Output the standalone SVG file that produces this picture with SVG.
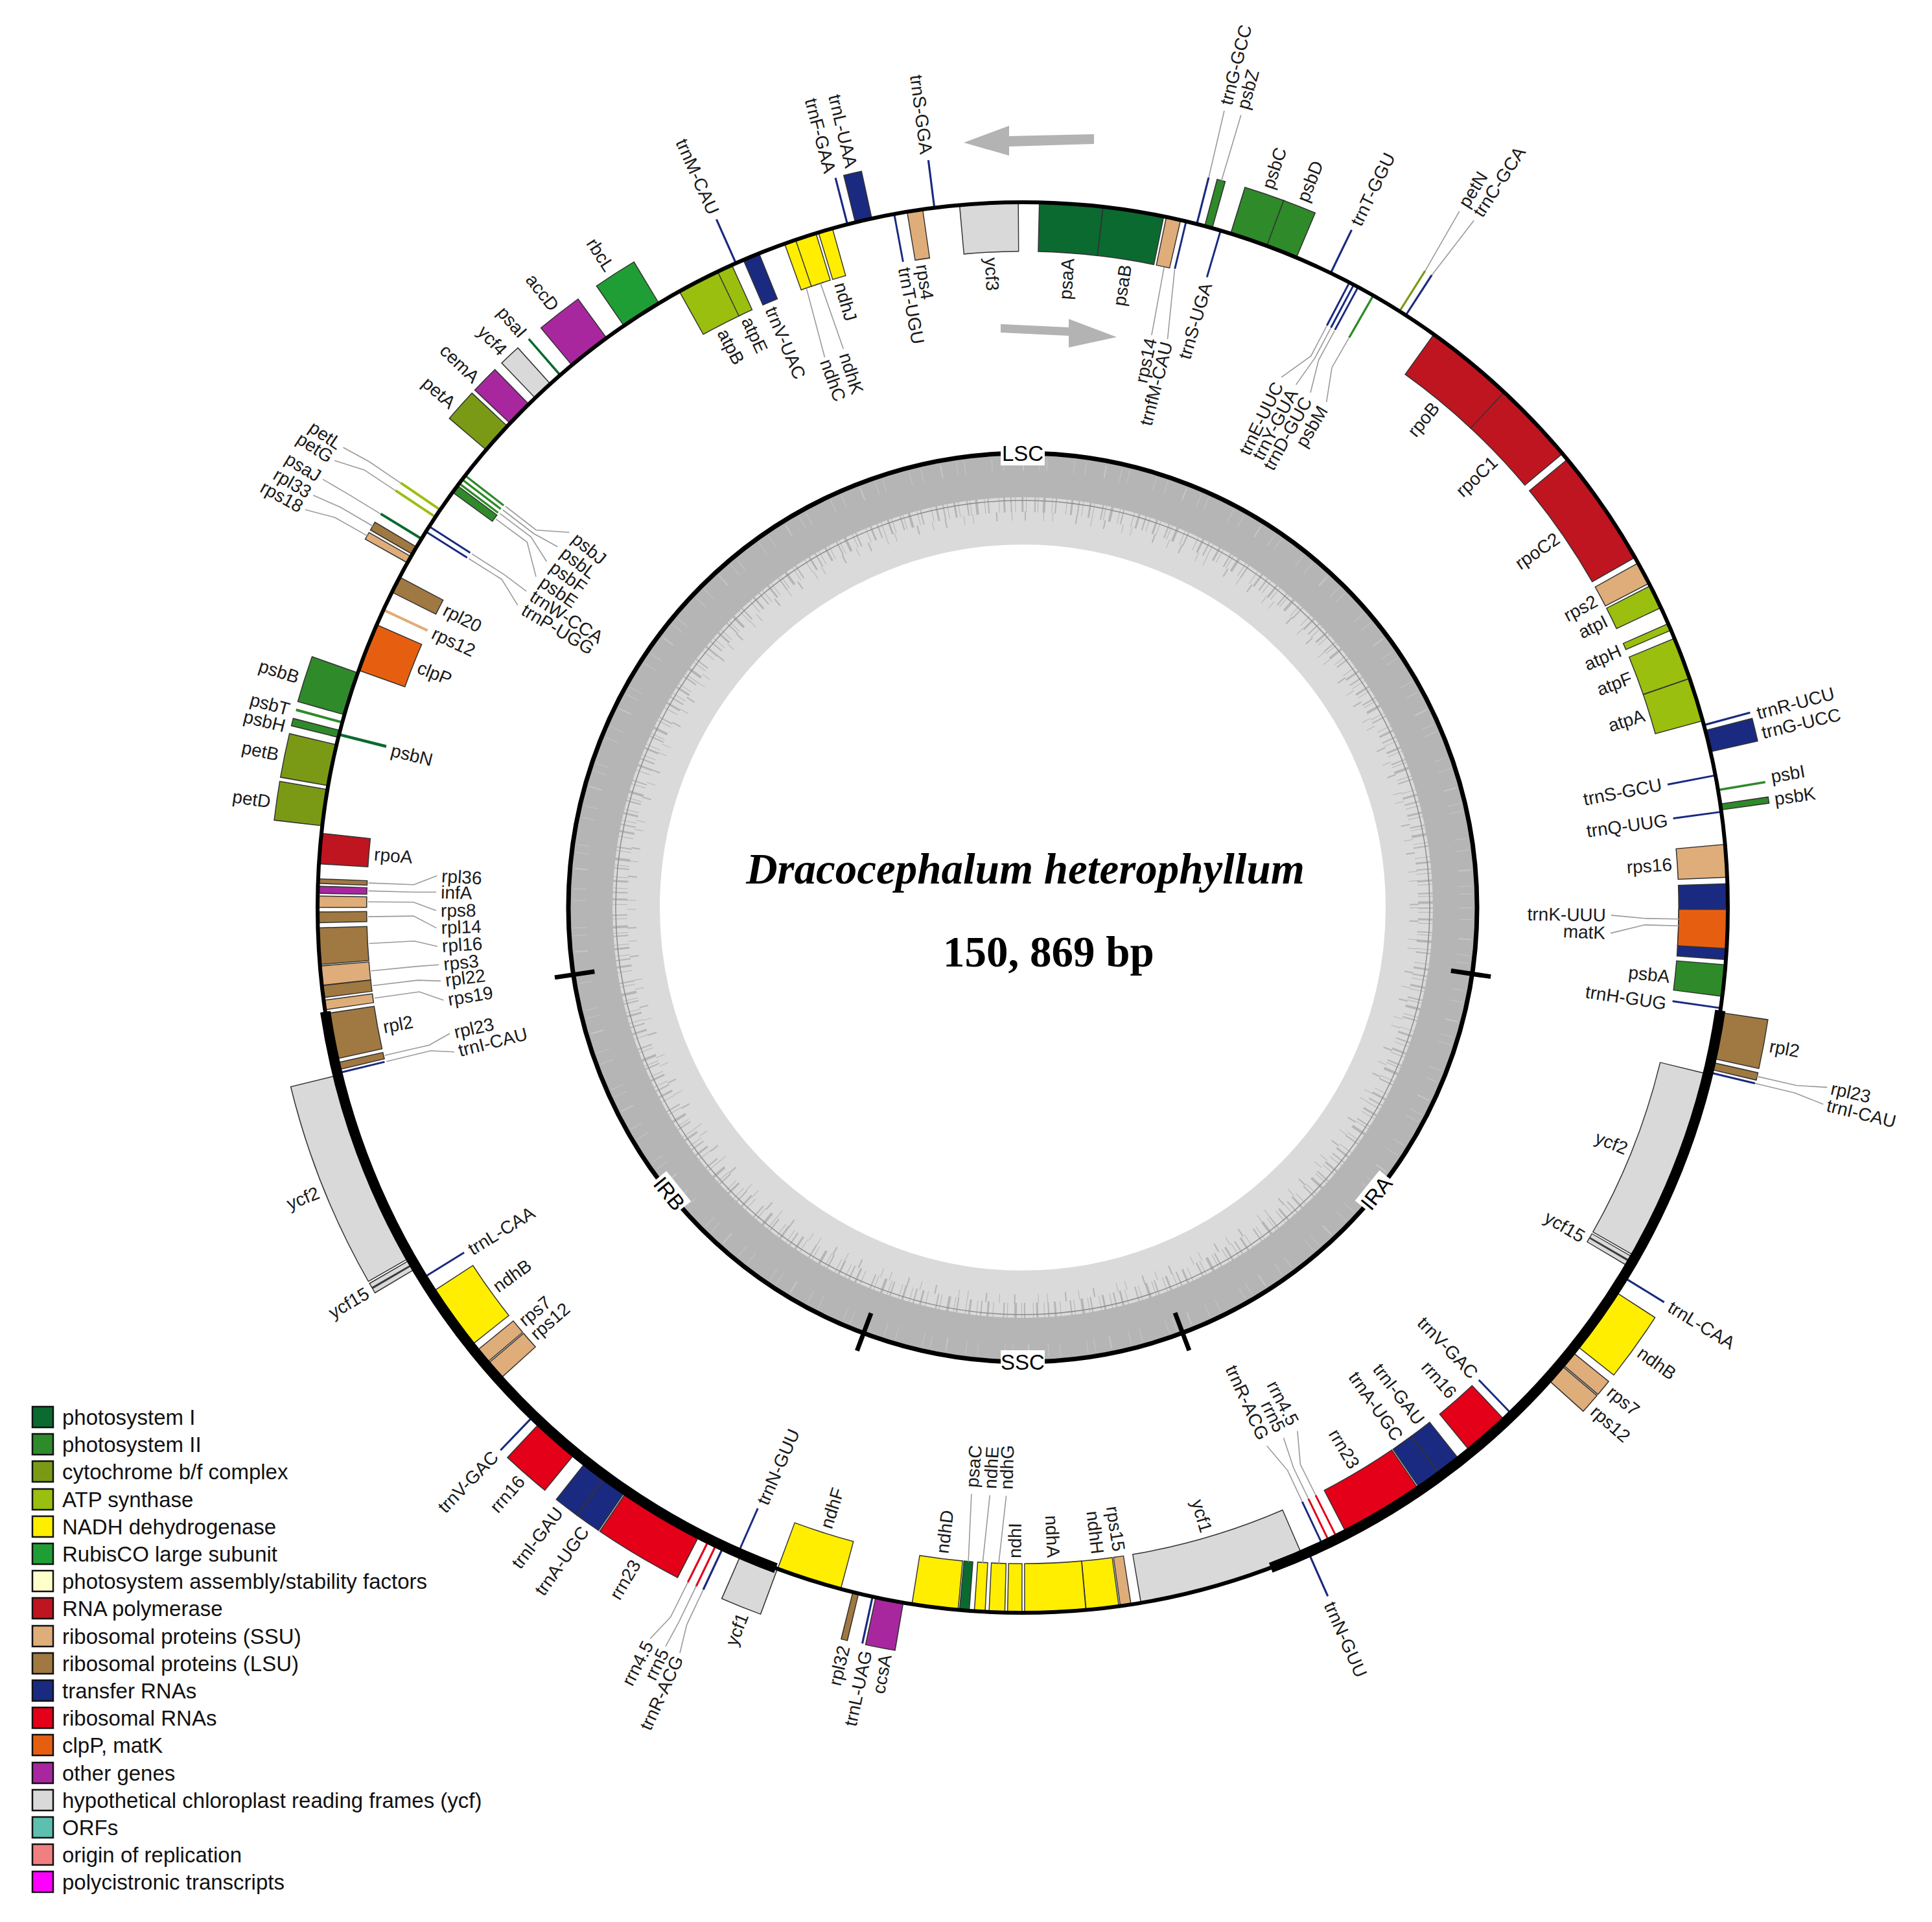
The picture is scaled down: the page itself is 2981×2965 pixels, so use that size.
<svg xmlns="http://www.w3.org/2000/svg" width="2981" height="2965" viewBox="0 0 2981 2965">
<style>
circle{fill:none}
.L{font-family:"Liberation Sans",Arial,sans-serif;font-size:28px;fill:#1a1a1a;dominant-baseline:central}
.e{text-anchor:end}.s{text-anchor:start}
.ld{fill:none;stroke:#9a9a9a;stroke-width:1.6}
.lg{font-family:"Liberation Sans",Arial,sans-serif;font-size:33px;fill:#111}
.lb{stroke:#111;stroke-width:2.5}
.rg{font-family:"Liberation Sans",Arial,sans-serif;font-size:33px;fill:#000;text-anchor:middle}
.ps1{stroke:#0b6a30;fill:#0b6a30}.ps2{stroke:#2f8a2a;fill:#2f8a2a}.cyt{stroke:#7a9a16;fill:#7a9a16}.atp{stroke:#9abf0f;fill:#9abf0f}
.ndh{stroke:#ffee00;fill:#ffee00}.rbc{stroke:#1f9e35;fill:#1f9e35}.psa{stroke:#ffffcc;fill:#ffffcc}.rpo{stroke:#bf1520;fill:#bf1520}
.rps{stroke:#dfad79;fill:#dfad79}.rpl{stroke:#a07841;fill:#a07841}.trn{stroke:#1a2a80;fill:#1a2a80}.rrn{stroke:#e30018;fill:#e30018}
.clp{stroke:#e65f10;fill:#e65f10}.oth{stroke:#a8279f;fill:#a8279f}.ycf{stroke:#d9d9d9;fill:#d9d9d9}.orf{stroke:#5cbfb0;fill:#5cbfb0}
.ori{stroke:#f08080;fill:#f08080}.pol{stroke:#ff00ff;fill:#ff00ff}
</style>
<defs>
<circle id="fi" cx="1578" cy="1400" r="1050.5" stroke-width="75" pathLength="360"/>
<circle id="oi" cx="1578" cy="1400" r="1050.5" stroke-width="78" stroke="#333" pathLength="360"/>
<circle id="fo" cx="1578" cy="1400" r="1125" stroke-width="74" pathLength="360"/>
<circle id="oo" cx="1578" cy="1400" r="1125" stroke-width="77" stroke="#333" pathLength="360"/>
</defs>
<rect width="2981" height="2965" fill="#fff"/>

<g id="gc-ring">
<circle cx="1578" cy="1400" r="630" stroke="#dadada" stroke-width="140"/>
<circle cx="1578" cy="1400" r="667" stroke="#b5b5b5" stroke-width="68"/>
<circle cx="1578" cy="1400" r="622" stroke="#b5b5b5" stroke-width="24" stroke-dasharray="2 5 1 9 3 4 1 12 2 3 1 7 4 10 1 4 2 15 1 6 3 8"/>
<circle cx="1578" cy="1400" r="604" stroke="#b5b5b5" stroke-width="14" stroke-dasharray="1 19 2 27 1 13 1 35 2 22"/>
<circle cx="1578" cy="1400" r="684" stroke="#cbcbcb" stroke-width="20" stroke-dasharray="1 17 1 29 2 23 1 11 1 41" opacity="0.8"/>
<circle cx="1578" cy="1400" r="628" stroke="#8c8c8c" stroke-width="1.5"/>
<circle cx="1578" cy="1400" r="701" stroke="#000" stroke-width="7"/>
<g stroke="#000" stroke-width="7">
<line x1="1578" y1="670" x2="1578" y2="732" transform="rotate(98.4 1578 1400)"/>
<line x1="1578" y1="670" x2="1578" y2="732" transform="rotate(159.4 1578 1400)"/>
<line x1="1578" y1="670" x2="1578" y2="732" transform="rotate(200.5 1578 1400)"/>
<line x1="1578" y1="670" x2="1578" y2="732" transform="rotate(261.5 1578 1400)"/>
</g>
<g id="region-labels">
<rect x="1544" y="682" width="68" height="36" fill="#fff"/><text class="rg" x="1578" y="711">LSC</text>
<rect x="1544" y="2083" width="68" height="36" fill="#fff"/><text class="rg" x="1578" y="2113">SSC</text>
<g transform="rotate(-51.1 1578 1400)"><rect x="1548" y="2083" width="60" height="36" fill="#fff"/><text class="rg" x="1578" y="2113">IRA</text></g>
<g transform="rotate(51 1578 1400)"><rect x="1548" y="2083" width="60" height="36" fill="#fff"/><text class="rg" x="1578" y="2113">IRB</text></g>
</g>
</g>

<g id="title">
<text x="1582" y="1363" font-family="Liberation Serif,'Times New Roman',serif" font-weight="bold" font-style="italic" font-size="67" text-anchor="middle">Dracocephalum heterophyllum</text>
<text x="1618" y="1491" font-family="Liberation Serif,'Times New Roman',serif" font-weight="bold" font-size="67" text-anchor="middle">150, 869 bp</text>
</g>

<g id="direction-arrows" fill="#b3b3b3">
<polygon points="1688,207 1557,210 1557,194 1487,220 1557,240 1557,226 1688,222"/>
<polygon points="1544,500 1649,505 1649,492 1723,520 1649,536 1649,518 1544,513"/>
</g>

<g id="genes" transform="rotate(-90 1578 1400)">
<g id="g-psaA" class="ps1"><use href="#oi" stroke-dasharray="0 1.32 5.26 360"/><use href="#fi" stroke-dasharray="0 1.4 5.1 360"/></g>
<g id="g-psaB" class="ps1"><use href="#oi" stroke-dasharray="0 6.52 5.06 360"/><use href="#fi" stroke-dasharray="0 6.6 4.9 360"/></g>
<g id="g-rps14" class="rps"><use href="#oi" stroke-dasharray="0 11.72 1.26 360"/><use href="#fi" stroke-dasharray="0 11.8 1.1 360"/></g>
<g id="g-trnfM-CAU" class="trn"><use href="#fi" stroke-dasharray="0 13.32 0.16 360"/></g>
<g id="g-trnG-GCC" class="trn"><use href="#fo" stroke-dasharray="0 14.22 0.16 360"/></g>
<g id="g-psbZ" class="ps2"><use href="#oo" stroke-dasharray="0 14.92 0.71 360"/><use href="#fo" stroke-dasharray="0 15 0.55 360"/></g>
<g id="g-trnS-UGA" class="trn"><use href="#fi" stroke-dasharray="0 16.22 0.16 360"/></g>
<g id="g-psbC" class="ps2"><use href="#oo" stroke-dasharray="0 17.12 3.26 360"/><use href="#fo" stroke-dasharray="0 17.2 3.1 360"/></g>
<g id="g-psbD" class="ps2"><use href="#oo" stroke-dasharray="0 20.22 2.66 360"/><use href="#fo" stroke-dasharray="0 20.3 2.5 360"/></g>
<g id="g-trnT-GGU" class="trn"><use href="#fo" stroke-dasharray="0 25.82 0.16 360"/></g>
<g id="g-trnE-UUC" class="trn"><use href="#fi" stroke-dasharray="0 27.52 0.16 360"/></g>
<g id="g-trnY-GUA" class="trn"><use href="#fi" stroke-dasharray="0 27.92 0.16 360"/></g>
<g id="g-trnD-GUC" class="trn"><use href="#fi" stroke-dasharray="0 28.32 0.16 360"/></g>
<g id="g-psbM" class="ps2"><use href="#fi" stroke-dasharray="0 29.72 0.18 360"/></g>
<g id="g-petN" class="cyt"><use href="#fo" stroke-dasharray="0 32.22 0.16 360"/></g>
<g id="g-trnC-GCA" class="trn"><use href="#fo" stroke-dasharray="0 32.82 0.16 360"/></g>
<g id="g-rpoB" class="rpo"><use href="#oi" stroke-dasharray="0 35.62 7.56 360"/><use href="#fi" stroke-dasharray="0 35.7 7.4 360"/></g>
<g id="g-rpoC1" class="rpo"><use href="#oi" stroke-dasharray="0 43.02 6.96 360"/><use href="#fi" stroke-dasharray="0 43.1 6.8 360"/></g>
<g id="g-rpoC2" class="rpo"><use href="#oi" stroke-dasharray="0 50.52 9.76 360"/><use href="#fi" stroke-dasharray="0 50.6 9.6 360"/></g>
<g id="g-rps2" class="rps"><use href="#oi" stroke-dasharray="0 60.72 1.96 360"/><use href="#fi" stroke-dasharray="0 60.8 1.8 360"/></g>
<g id="g-atpI" class="atp"><use href="#oi" stroke-dasharray="0 62.82 2.06 360"/><use href="#fi" stroke-dasharray="0 62.9 1.9 360"/></g>
<g id="g-atpH" class="atp"><use href="#oi" stroke-dasharray="0 66.22 0.66 360"/><use href="#fi" stroke-dasharray="0 66.3 0.5 360"/></g>
<g id="g-atpF" class="atp"><use href="#oi" stroke-dasharray="0 67.52 3.56 360"/><use href="#fi" stroke-dasharray="0 67.6 3.4 360"/></g>
<g id="g-atpA" class="atp"><use href="#oi" stroke-dasharray="0 71.02 3.66 360"/><use href="#fi" stroke-dasharray="0 71.1 3.5 360"/></g>
<g id="g-trnR-UCU" class="trn"><use href="#fo" stroke-dasharray="0 74.92 0.16 360"/></g>
<g id="g-trnG-UCC" class="trn"><use href="#oo" stroke-dasharray="0 75.42 1.86 360"/><use href="#fo" stroke-dasharray="0 75.5 1.7 360"/></g>
<g id="g-trnS-GCU" class="trn"><use href="#fi" stroke-dasharray="0 79.12 0.16 360"/></g>
<g id="g-psbI" class="ps2"><use href="#fo" stroke-dasharray="0 80.32 0.18 360"/></g>
<g id="g-psbK" class="ps2"><use href="#oo" stroke-dasharray="0 81.52 0.56 360"/><use href="#fo" stroke-dasharray="0 81.6 0.4 360"/></g>
<g id="g-trnQ-UUG" class="trn"><use href="#fi" stroke-dasharray="0 82.12 0.16 360"/></g>
<g id="g-rps16" class="rps"><use href="#oi" stroke-dasharray="0 84.82 2.76 360"/><use href="#fi" stroke-dasharray="0 84.9 2.6 360"/></g>
<g id="g-trnK-UUU" class="trn"><use href="#oi" stroke-dasharray="0 88.02 6.26 360"/><use href="#fi" stroke-dasharray="0 88.1 6.1 360"/></g>
<g id="g-matK" class="clp"><use href="#oi" stroke-dasharray="0 90.12 3.26 360"/><use href="#fi" stroke-dasharray="0 90.2 3.1 360"/></g>
<g id="g-psbA" class="ps2"><use href="#oi" stroke-dasharray="0 94.62 2.66 360"/><use href="#fi" stroke-dasharray="0 94.7 2.5 360"/></g>
<g id="g-trnH-GUG" class="trn"><use href="#fi" stroke-dasharray="0 98.12 0.16 360"/></g>
<g id="g-rpl2-A" class="rpl"><use href="#oo" stroke-dasharray="0 98.52 3.86 360"/><use href="#fo" stroke-dasharray="0 98.6 3.7 360"/></g>
<g id="g-rpl23-A" class="rpl"><use href="#oo" stroke-dasharray="0 102.62 0.66 360"/><use href="#fo" stroke-dasharray="0 102.7 0.5 360"/></g>
<g id="g-trnI-CAU-A" class="trn"><use href="#fo" stroke-dasharray="0 103.42 0.16 360"/></g>
<g id="g-ycf2-A" class="ycf"><use href="#oi" stroke-dasharray="0 103.62 16.06 360"/><use href="#fi" stroke-dasharray="0 103.7 15.9 360"/></g>
<g id="g-ycf15-A" class="ycf"><use href="#oi" stroke-dasharray="0 119.77 0.46 360"/><use href="#fi" stroke-dasharray="0 119.85 0.3 360"/><use href="#oi" stroke-dasharray="0 120.22 0.46 360"/><use href="#fi" stroke-dasharray="0 120.3 0.3 360"/></g>
<g id="g-trnL-CAA-A" class="trn"><use href="#fo" stroke-dasharray="0 121.52 0.16 360"/></g>
<g id="g-ndhB-A" class="ndh"><use href="#oo" stroke-dasharray="0 122.92 5.46 360"/><use href="#fo" stroke-dasharray="0 123 5.3 360"/></g>
<g id="g-rps7-A" class="rps"><use href="#oo" stroke-dasharray="0 128.92 1.36 360"/><use href="#fo" stroke-dasharray="0 129 1.2 360"/></g>
<g id="g-rps12-A" class="rps"><use href="#oo" stroke-dasharray="0 130.32 1.66 360"/><use href="#fo" stroke-dasharray="0 130.4 1.5 360"/></g>
<g id="g-trnV-GAC-A" class="trn"><use href="#fi" stroke-dasharray="0 135.92 0.16 360"/></g>
<g id="g-rrn16-A" class="rrn"><use href="#oi" stroke-dasharray="0 136.72 3.86 360"/><use href="#fi" stroke-dasharray="0 136.8 3.7 360"/></g>
<g id="g-trnI-GAU-A" class="trn"><use href="#oi" stroke-dasharray="0 141.62 2.06 360"/><use href="#fi" stroke-dasharray="0 141.7 1.9 360"/></g>
<g id="g-trnA-UGC-A" class="trn"><use href="#oi" stroke-dasharray="0 143.62 2.06 360"/><use href="#fi" stroke-dasharray="0 143.7 1.9 360"/></g>
<g id="g-rrn23-A" class="rrn"><use href="#oi" stroke-dasharray="0 145.72 6.96 360"/><use href="#fi" stroke-dasharray="0 145.8 6.8 360"/></g>
<g id="g-rrn4.5-A" class="rrn"><use href="#fi" stroke-dasharray="0 153.42 0.16 360"/></g>
<g id="g-rrn5-A" class="rrn"><use href="#fi" stroke-dasharray="0 154.12 0.16 360"/></g>
<g id="g-trnR-ACG-A" class="trn"><use href="#fi" stroke-dasharray="0 154.72 0.16 360"/></g>
<g id="g-trnN-GUU-A" class="trn"><use href="#fo" stroke-dasharray="0 156.02 0.16 360"/></g>
<g id="g-ycf1-A" class="ycf"><use href="#oi" stroke-dasharray="0 156.62 13.76 360"/><use href="#fi" stroke-dasharray="0 156.7 13.6 360"/></g>
<g id="g-rps15" class="rps"><use href="#oi" stroke-dasharray="0 171.12 0.96 360"/><use href="#fi" stroke-dasharray="0 171.2 0.8 360"/></g>
<g id="g-ndhH" class="ndh"><use href="#oi" stroke-dasharray="0 172.12 2.76 360"/><use href="#fi" stroke-dasharray="0 172.2 2.6 360"/></g>
<g id="g-ndhA" class="ndh"><use href="#oi" stroke-dasharray="0 174.82 5.06 360"/><use href="#fi" stroke-dasharray="0 174.9 4.9 360"/></g>
<g id="g-ndhI" class="ndh"><use href="#oi" stroke-dasharray="0 180.02 1.26 360"/><use href="#fi" stroke-dasharray="0 180.1 1.1 360"/></g>
<g id="g-ndhG" class="ndh"><use href="#oi" stroke-dasharray="0 181.42 1.36 360"/><use href="#fi" stroke-dasharray="0 181.5 1.2 360"/></g>
<g id="g-ndhE" class="ndh"><use href="#oi" stroke-dasharray="0 183.02 0.96 360"/><use href="#fi" stroke-dasharray="0 183.1 0.8 360"/></g>
<g id="g-psaC" class="ps1"><use href="#oi" stroke-dasharray="0 184.32 0.86 360"/><use href="#fi" stroke-dasharray="0 184.4 0.7 360"/></g>
<g id="g-ndhD" class="ndh"><use href="#oi" stroke-dasharray="0 185.22 3.86 360"/><use href="#fi" stroke-dasharray="0 185.3 3.7 360"/></g>
<g id="g-ccsA" class="oth"><use href="#oo" stroke-dasharray="0 189.72 2.36 360"/><use href="#fo" stroke-dasharray="0 189.8 2.2 360"/></g>
<g id="g-trnL-UAG" class="trn"><use href="#fo" stroke-dasharray="0 192.22 0.16 360"/></g>
<g id="g-rpl32" class="rpl"><use href="#oo" stroke-dasharray="0 193.42 0.56 360"/><use href="#fo" stroke-dasharray="0 193.5 0.4 360"/></g>
<g id="g-ndhF" class="ndh"><use href="#oi" stroke-dasharray="0 194.92 5.46 360"/><use href="#fi" stroke-dasharray="0 195 5.3 360"/></g>
<g id="g-ycf1-B" class="ycf"><use href="#oo" stroke-dasharray="0 200.32 3.26 360"/><use href="#fo" stroke-dasharray="0 200.4 3.1 360"/></g>
<g id="g-trnN-GUU-B" class="trn"><use href="#fi" stroke-dasharray="0 203.72 0.16 360"/></g>
<g id="g-trnR-ACG-B" class="trn"><use href="#fo" stroke-dasharray="0 205.02 0.16 360"/></g>
<g id="g-rrn5-B" class="rrn"><use href="#fo" stroke-dasharray="0 205.62 0.16 360"/></g>
<g id="g-rrn4.5-B" class="rrn"><use href="#fo" stroke-dasharray="0 206.32 0.16 360"/></g>
<g id="g-rrn23-B" class="rrn"><use href="#oo" stroke-dasharray="0 207.22 6.96 360"/><use href="#fo" stroke-dasharray="0 207.3 6.8 360"/></g>
<g id="g-trnA-UGC-B" class="trn"><use href="#oo" stroke-dasharray="0 214.22 2.06 360"/><use href="#fo" stroke-dasharray="0 214.3 1.9 360"/></g>
<g id="g-trnI-GAU-B" class="trn"><use href="#oo" stroke-dasharray="0 216.22 2.06 360"/><use href="#fo" stroke-dasharray="0 216.3 1.9 360"/></g>
<g id="g-rrn16-B" class="rrn"><use href="#oo" stroke-dasharray="0 219.32 3.86 360"/><use href="#fo" stroke-dasharray="0 219.4 3.7 360"/></g>
<g id="g-trnV-GAC-B" class="trn"><use href="#fo" stroke-dasharray="0 223.82 0.16 360"/></g>
<g id="g-rps12-B" class="rps"><use href="#oi" stroke-dasharray="0 227.92 1.66 360"/><use href="#fi" stroke-dasharray="0 228 1.5 360"/></g>
<g id="g-rps7-B" class="rps"><use href="#oi" stroke-dasharray="0 229.62 1.36 360"/><use href="#fi" stroke-dasharray="0 229.7 1.2 360"/></g>
<g id="g-ndhB-B" class="ndh"><use href="#oi" stroke-dasharray="0 231.52 5.46 360"/><use href="#fi" stroke-dasharray="0 231.6 5.3 360"/></g>
<g id="g-trnL-CAA-B" class="trn"><use href="#fi" stroke-dasharray="0 238.22 0.16 360"/></g>
<g id="g-ycf15-B" class="ycf"><use href="#oo" stroke-dasharray="0 239.22 0.46 360"/><use href="#fo" stroke-dasharray="0 239.3 0.3 360"/><use href="#oo" stroke-dasharray="0 239.67 0.46 360"/><use href="#fo" stroke-dasharray="0 239.75 0.3 360"/></g>
<g id="g-ycf2-B" class="ycf"><use href="#oo" stroke-dasharray="0 240.22 16.06 360"/><use href="#fo" stroke-dasharray="0 240.3 15.9 360"/></g>
<g id="g-trnI-CAU-B" class="trn"><use href="#fi" stroke-dasharray="0 256.32 0.16 360"/></g>
<g id="g-rpl23-B" class="rpl"><use href="#oi" stroke-dasharray="0 256.62 0.66 360"/><use href="#fi" stroke-dasharray="0 256.7 0.5 360"/></g>
<g id="g-rpl2-B" class="rpl"><use href="#oi" stroke-dasharray="0 257.52 3.86 360"/><use href="#fi" stroke-dasharray="0 257.6 3.7 360"/></g>
<g id="g-rps19" class="rps"><use href="#oi" stroke-dasharray="0 261.62 0.86 360"/><use href="#fi" stroke-dasharray="0 261.7 0.7 360"/></g>
<g id="g-rpl22" class="rpl"><use href="#oi" stroke-dasharray="0 262.62 1.06 360"/><use href="#fi" stroke-dasharray="0 262.7 0.9 360"/></g>
<g id="g-rps3" class="rps"><use href="#oi" stroke-dasharray="0 263.62 1.66 360"/><use href="#fi" stroke-dasharray="0 263.7 1.5 360"/></g>
<g id="g-rpl16" class="rpl"><use href="#oi" stroke-dasharray="0 265.32 3.06 360"/><use href="#fi" stroke-dasharray="0 265.4 2.9 360"/></g>
<g id="g-rpl14" class="rpl"><use href="#oi" stroke-dasharray="0 268.72 0.96 360"/><use href="#fi" stroke-dasharray="0 268.8 0.8 360"/></g>
<g id="g-rps8" class="rps"><use href="#oi" stroke-dasharray="0 269.97 1.01 360"/><use href="#fi" stroke-dasharray="0 270.05 0.85 360"/></g>
<g id="g-infA" class="oth"><use href="#oi" stroke-dasharray="0 271.12 0.66 360"/><use href="#fi" stroke-dasharray="0 271.2 0.5 360"/></g>
<g id="g-rpl36" class="rpl"><use href="#oi" stroke-dasharray="0 271.92 0.46 360"/><use href="#fi" stroke-dasharray="0 272 0.3 360"/></g>
<g id="g-rpoA" class="rpo"><use href="#oi" stroke-dasharray="0 273.52 2.56 360"/><use href="#fi" stroke-dasharray="0 273.6 2.4 360"/></g>
<g id="g-petD" class="cyt"><use href="#oo" stroke-dasharray="0 276.62 3.06 360"/><use href="#fo" stroke-dasharray="0 276.7 2.9 360"/></g>
<g id="g-petB" class="cyt"><use href="#oo" stroke-dasharray="0 279.92 3.46 360"/><use href="#fo" stroke-dasharray="0 280 3.3 360"/></g>
<g id="g-psbH" class="ps2"><use href="#oo" stroke-dasharray="0 283.92 0.66 360"/><use href="#fo" stroke-dasharray="0 284 0.5 360"/></g>
<g id="g-psbN" class="ps1"><use href="#fi" stroke-dasharray="0 284.08 0.25 360"/></g>
<g id="g-psbT" class="ps2"><use href="#fo" stroke-dasharray="0 285.12 0.2 360"/></g>
<g id="g-psbB" class="ps2"><use href="#oo" stroke-dasharray="0 285.82 3.66 360"/><use href="#fo" stroke-dasharray="0 285.9 3.5 360"/></g>
<g id="g-clpP" class="clp"><use href="#oi" stroke-dasharray="0 289.62 4.06 360"/><use href="#fi" stroke-dasharray="0 289.7 3.9 360"/></g>
<g id="g-rps12-L" class="rps"><use href="#fi" stroke-dasharray="0 294.85 0.22 360"/></g>
<g id="g-rpl20" class="rpl"><use href="#oi" stroke-dasharray="0 296.52 1.46 360"/><use href="#fi" stroke-dasharray="0 296.6 1.3 360"/></g>
<g id="g-rps18" class="rps"><use href="#oo" stroke-dasharray="0 299.22 0.66 360"/><use href="#fo" stroke-dasharray="0 299.3 0.5 360"/></g>
<g id="g-rpl33" class="rpl"><use href="#oo" stroke-dasharray="0 300.02 0.76 360"/><use href="#fo" stroke-dasharray="0 300.1 0.6 360"/></g>
<g id="g-psaJ" class="ps1"><use href="#fo" stroke-dasharray="0 301.42 0.2 360"/></g>
<g id="g-trnP-UGG" class="trn"><use href="#fi" stroke-dasharray="0 302.12 0.16 360"/></g>
<g id="g-trnW-CCA" class="trn"><use href="#fi" stroke-dasharray="0 302.62 0.16 360"/></g>
<g id="g-petG" class="atp"><use href="#fo" stroke-dasharray="0 303.52 0.2 360"/></g>
<g id="g-petL" class="atp"><use href="#fo" stroke-dasharray="0 304.22 0.2 360"/></g>
<g id="g-psbE" class="ps2"><use href="#oi" stroke-dasharray="0 306.02 0.76 360"/><use href="#fi" stroke-dasharray="0 306.1 0.6 360"/></g>
<g id="g-psbF" class="ps2"><use href="#fi" stroke-dasharray="0 306.87 0.18 360"/></g>
<g id="g-psbL" class="ps2"><use href="#fi" stroke-dasharray="0 307.27 0.18 360"/></g>
<g id="g-psbJ" class="ps2"><use href="#fi" stroke-dasharray="0 307.67 0.18 360"/></g>
<g id="g-petA" class="cyt"><use href="#oo" stroke-dasharray="0 310.42 2.66 360"/><use href="#fo" stroke-dasharray="0 310.5 2.5 360"/></g>
<g id="g-cemA" class="oth"><use href="#oo" stroke-dasharray="0 313.32 2.26 360"/><use href="#fo" stroke-dasharray="0 313.4 2.1 360"/></g>
<g id="g-ycf4" class="ycf"><use href="#oo" stroke-dasharray="0 316.22 1.76 360"/><use href="#fo" stroke-dasharray="0 316.3 1.6 360"/></g>
<g id="g-psaI" class="ps1"><use href="#fo" stroke-dasharray="0 318.92 0.18 360"/></g>
<g id="g-accD" class="oth"><use href="#oo" stroke-dasharray="0 320.22 3.66 360"/><use href="#fo" stroke-dasharray="0 320.3 3.5 360"/></g>
<g id="g-rbcL" class="rbc"><use href="#oo" stroke-dasharray="0 325.52 3.46 360"/><use href="#fo" stroke-dasharray="0 325.6 3.3 360"/></g>
<g id="g-atpB" class="atp"><use href="#oi" stroke-dasharray="0 330.82 3.66 360"/><use href="#fi" stroke-dasharray="0 330.9 3.5 360"/></g>
<g id="g-atpE" class="atp"><use href="#oi" stroke-dasharray="0 334.32 1.36 360"/><use href="#fi" stroke-dasharray="0 334.4 1.2 360"/></g>
<g id="g-trnM-CAU" class="trn"><use href="#fo" stroke-dasharray="0 335.92 0.16 360"/></g>
<g id="g-trnV-UAC" class="trn"><use href="#oi" stroke-dasharray="0 336.62 1.46 360"/><use href="#fi" stroke-dasharray="0 336.7 1.3 360"/></g>
<g id="g-ndhC" class="ndh"><use href="#oi" stroke-dasharray="0 340.22 1.06 360"/><use href="#fi" stroke-dasharray="0 340.3 0.9 360"/></g>
<g id="g-ndhK" class="ndh"><use href="#oi" stroke-dasharray="0 341.17 1.81 360"/><use href="#fi" stroke-dasharray="0 341.25 1.65 360"/></g>
<g id="g-ndhJ" class="ndh"><use href="#oi" stroke-dasharray="0 343.12 1.26 360"/><use href="#fi" stroke-dasharray="0 343.2 1.1 360"/></g>
<g id="g-trnF-GAA" class="trn"><use href="#fo" stroke-dasharray="0 345.52 0.16 360"/></g>
<g id="g-trnL-UAA" class="trn"><use href="#oo" stroke-dasharray="0 346.22 1.46 360"/><use href="#fo" stroke-dasharray="0 346.3 1.3 360"/></g>
<g id="g-trnT-UGU" class="trn"><use href="#fi" stroke-dasharray="0 349.42 0.16 360"/></g>
<g id="g-rps4" class="rps"><use href="#oi" stroke-dasharray="0 350.52 1.36 360"/><use href="#fi" stroke-dasharray="0 350.6 1.2 360"/></g>
<g id="g-trnS-GGA" class="trn"><use href="#fo" stroke-dasharray="0 352.72 0.16 360"/></g>
<g id="g-ycf3" class="ycf"><use href="#oi" stroke-dasharray="0 354.82 4.86 360"/><use href="#fi" stroke-dasharray="0 354.9 4.7 360"/></g>
<g id="genome-ring">
<circle cx="1578" cy="1400" r="1088" stroke="#000" stroke-width="6"/>
<circle cx="1578" cy="1400" r="1088" stroke="#000" stroke-width="16" pathLength="360" stroke-dasharray="0 98.4 61 360"/>
<circle cx="1578" cy="1400" r="1088" stroke="#000" stroke-width="16" pathLength="360" stroke-dasharray="0 200.5 61 360"/>
</g>
</g>

<g id="leaders">
<polyline class="ld" points="1266.1,437.3 1301.3,538.3"/>
<polyline class="ld" points="1244.3,444.6 1272.5,551.3"/>
<polyline class="ld" points="1796.2,411.8 1776.9,517.2"/>
<polyline class="ld" points="1812.5,415.5 1801.5,523.1"/>
<polyline class="ld" points="1865.0,274.0 1889.0,170.8"/>
<polyline class="ld" points="1884.6,279.1 1914.8,177.5"/>
<polyline class="ld" points="2046.9,503.2 2022.8,549.2 1977.0,582.1"/>
<polyline class="ld" points="2053.1,506.5 2028.7,552.4 1999.6,593.6"/>
<polyline class="ld" points="2059.3,509.8 2034.6,555.6 2022.0,605.7"/>
<polyline class="ld" points="2081.0,521.8 2055.1,566.9 2046.7,620.0"/>
<polyline class="ld" points="2199.0,417.8 2251.8,325.9"/>
<polyline class="ld" points="2209.2,424.4 2274.1,340.2"/>
<polyline class="ld" points="2590.8,1417.7 2537.9,1416.8 2485.9,1411.9"/>
<polyline class="ld" points="2590.6,1428.3 2537.6,1426.8 2485.1,1439.6"/>
<polyline class="ld" points="2710.5,1660.4 2771.9,1674.5 2819.3,1677.4"/>
<polyline class="ld" points="2708.0,1671.2 2769.2,1685.9 2813.2,1703.4"/>
<polyline class="ld" points="2030.0,2306.5 2006.4,2259.1 2001.9,2207.5"/>
<polyline class="ld" points="2018.9,2312.0 1995.8,2264.3 1980.6,2218.3"/>
<polyline class="ld" points="2009.3,2316.6 1986.8,2268.6 1954.8,2230.6"/>
<polyline class="ld" points="1540.9,2412.3 1552.6,2307.6"/>
<polyline class="ld" points="1516.2,2411.1 1527.3,2306.6"/>
<polyline class="ld" points="1494.1,2409.5 1498.9,2304.5"/>
<polyline class="ld" points="1061.4,2440.8 1034.7,2494.5 1003.2,2528.0"/>
<polyline class="ld" points="1074.0,2447.1 1048.0,2501.1 1027.0,2539.8"/>
<polyline class="ld" points="1085.1,2452.3 1059.6,2506.6 1049.0,2550.2"/>
<polyline class="ld" points="594,1628 662.3,1612.3 694.1,1594.3"/>
<polyline class="ld" points="596.4,1637.5 664.4,1621.0 700.9,1622.8"/>
<polyline class="ld" points="568.7,1362.1 638.7,1364.7 674.3,1351.1"/>
<polyline class="ld" points="568.3,1374.4 638.3,1376.2 673.1,1376.3"/>
<polyline class="ld" points="568.0,1391.2 638.0,1391.8 673.0,1404.7"/>
<polyline class="ld" points="568.1,1414.1 638.1,1413.1 673.6,1431.6"/>
<polyline class="ld" points="569.5,1455.5 639.4,1451.7 675.0,1460.0"/>
<polyline class="ld" points="572.7,1497.7 642.4,1490.9 677.3,1488.3"/>
<polyline class="ld" points="575.2,1520.5 644.7,1512.1 680.1,1513.4"/>
<polyline class="ld" points="577.7,1539.7 647.0,1530.0 684.4,1543.1"/>
<polyline class="ld" points="618.1,745.2 570.2,712.5 529.6,690.3"/>
<polyline class="ld" points="610.2,756.9 561.9,724.9 516.2,710.5"/>
<polyline class="ld" points="587.3,792.9 537.8,762.6 498.0,739.4"/>
<polyline class="ld" points="575.8,812.0 525.8,782.7 483.3,764.1"/>
<polyline class="ld" points="567.2,826.9 516.7,798.3 470.8,786.2"/>
<polyline class="ld" points="779.9,781.0 827.3,817.7 878.4,821.2"/>
<polyline class="ld" points="775.7,786.5 823.3,823.0 860.5,843.5"/>
<polyline class="ld" points="771.4,792.2 819.3,828.3 843.4,866.3"/>
<polyline class="ld" points="765.0,800.7 813.3,836.3 827.0,889.6"/>
<polyline class="ld" points="728.1,854.4 778.6,886.8 812.2,912.1"/>
<polyline class="ld" points="723.3,861.8 774.1,893.7 798.8,933.7"/>
</g>

<g id="labels">
<!-- left outside -->
<text class="L e" x="406" y="1400" transform="rotate(66 1578 1400)">trnM-CAU</text>
<text class="L e" x="406" y="1400" transform="rotate(75.3 1578 1400)">trnF-GAA</text>
<text class="L e" x="406" y="1400" transform="rotate(76.95 1578 1400)">trnL-UAA</text>
<text class="L e" x="406" y="1400" transform="rotate(82.7 1578 1400)">trnS-GGA</text>
<text class="L e" x="406" y="1400" transform="rotate(41.4 1578 1400)">petA</text>
<text class="L e" x="406" y="1400" transform="rotate(44 1578 1400)">cemA</text>
<text class="L e" x="406" y="1400" transform="rotate(46.9 1578 1400)">ycf4</text>
<text class="L e" x="406" y="1400" transform="rotate(48.9 1578 1400)">psaI</text>
<text class="L e" x="406" y="1400" transform="rotate(52 1578 1400)">accD</text>
<text class="L e" x="406" y="1400" transform="rotate(57.1 1578 1400)">rbcL</text>
<text class="L e" x="406" y="1400" transform="rotate(8 1578 1400)">petD</text>
<text class="L e" x="406" y="1400" transform="rotate(11.6 1578 1400)">petB</text>
<text class="L e" x="406" y="1400" transform="rotate(13.8 1578 1400)">psbH</text>
<text class="L e" x="406" y="1400" transform="rotate(15.1 1578 1400)">psbT</text>
<text class="L e" x="406" y="1400" transform="rotate(17.6 1578 1400)">psbB</text>
<text class="L e" x="406" y="1400" transform="rotate(-22 1578 1400)">ycf2</text>
<text class="L e" x="406" y="1400" transform="rotate(-30.4 1578 1400)">ycf15</text>
<text class="L e" x="406" y="1400" transform="rotate(-46 1578 1400)">trnV-GAC</text>
<text class="L e" x="406" y="1400" transform="rotate(-48.7 1578 1400)">rrn16</text>
<text class="L e" x="406" y="1400" transform="rotate(-52.4 1578 1400)">trnI-GAU</text>
<text class="L e" x="406" y="1400" transform="rotate(-54.8 1578 1400)">trnA-UGC</text>
<text class="L e" x="406" y="1400" transform="rotate(-59.4 1578 1400)">rrn23</text>
<text class="L e" x="406" y="1400" transform="rotate(-68.4 1578 1400)">ycf1</text>
<text class="L e" x="406" y="1400" transform="rotate(-76.4 1578 1400)">rpl32</text>
<text class="L e" x="406" y="1400" transform="rotate(-78.1 1578 1400)">trnL-UAG</text>
<text class="L e" x="406" y="1400" transform="rotate(-79.6 1578 1400)">ccsA</text>
<!-- left inside -->
<text class="L s" x="574" y="1400" transform="rotate(87.2 1578 1400)">ycf3</text>
<text class="L s" x="574" y="1400" transform="rotate(81.1 1578 1400)">rps4</text>
<text class="L s" x="574" y="1400" transform="rotate(79.5 1578 1400)">trnT-UGU</text>
<text class="L s" x="574" y="1400" transform="rotate(73.7 1578 1400)">ndhJ</text>
<text class="L s" x="574" y="1400" transform="rotate(67.2 1578 1400)">trnV-UAC</text>
<text class="L s" x="574" y="1400" transform="rotate(64.9 1578 1400)">atpE</text>
<text class="L s" x="574" y="1400" transform="rotate(62.5 1578 1400)">atpB</text>
<text class="L s" x="574" y="1400" transform="rotate(27.3 1578 1400)">rpl20</text>
<text class="L s" x="574" y="1400" transform="rotate(25 1578 1400)">rps12</text>
<text class="L s" x="574" y="1400" transform="rotate(21.7 1578 1400)">clpP</text>
<text class="L s" x="574" y="1400" transform="rotate(14 1578 1400)">psbN</text>
<text class="L s" x="574" y="1400" transform="rotate(4.7 1578 1400)">rpoA</text>
<text class="L s" x="574" y="1400" transform="rotate(-10.6 1578 1400)">rpl2</text>
<text class="L s" x="574" y="1400" transform="rotate(-31.8 1578 1400)">trnL-CAA</text>
<text class="L s" x="574" y="1400" transform="rotate(-35.8 1578 1400)">ndhB</text>
<text class="L s" x="574" y="1400" transform="rotate(-39.6 1578 1400)">rps7</text>
<text class="L s" x="574" y="1400" transform="rotate(-41.2 1578 1400)">rps12</text>
<text class="L s" x="574" y="1400" transform="rotate(-66.4 1578 1400)">trnN-GUU</text>
<text class="L s" x="574" y="1400" transform="rotate(-72.4 1578 1400)">ndhF</text>
<text class="L s" x="574" y="1400" transform="rotate(-82.9 1578 1400)">ndhD</text>
<text class="L s" x="574" y="1400" transform="rotate(-89.3 1578 1400)">ndhI</text>
<!-- left inside pushed -->
<text class="L s" x="680" y="1400" transform="rotate(72.2 1578 1400)">ndhK</text>
<text class="L s" x="680" y="1400" transform="rotate(70.2 1578 1400)">ndhC</text>
<text class="L s" x="680" y="1400" transform="rotate(3.1 1578 1400)">rpl36</text>
<text class="L s" x="680" y="1400" transform="rotate(1.5 1578 1400)">infA</text>
<text class="L s" x="680" y="1400" transform="rotate(-0.3 1578 1400)">rps8</text>
<text class="L s" x="680" y="1400" transform="rotate(-2 1578 1400)">rpl14</text>
<text class="L s" x="680" y="1400" transform="rotate(-3.8 1578 1400)">rpl16</text>
<text class="L s" x="680" y="1400" transform="rotate(-5.6 1578 1400)">rps3</text>
<text class="L s" x="680" y="1400" transform="rotate(-7.2 1578 1400)">rpl22</text>
<text class="L s" x="680" y="1400" transform="rotate(-9.1 1578 1400)">rps19</text>
<text class="L s" x="680" y="1400" transform="rotate(-12.4 1578 1400)">rpl23</text>
<text class="L s" x="680" y="1400" transform="rotate(-14.25 1578 1400)">trnI-CAU</text>
<text class="L s" x="680" y="1400" transform="rotate(39.6 1578 1400)">psbJ</text>
<text class="L s" x="680" y="1400" transform="rotate(37.8 1578 1400)">psbL</text>
<text class="L s" x="680" y="1400" transform="rotate(36 1578 1400)">psbF</text>
<text class="L s" x="680" y="1400" transform="rotate(34.2 1578 1400)">psbE</text>
<text class="L s" x="680" y="1400" transform="rotate(32.5 1578 1400)">trnW-CCA</text>
<text class="L s" x="680" y="1400" transform="rotate(30.9 1578 1400)">trnP-UGG</text>
<text class="L s" x="680" y="1400" transform="rotate(-88.4 1578 1400)">ndhG</text>
<text class="L s" x="680" y="1400" transform="rotate(-86.8 1578 1400)">ndhE</text>
<text class="L s" x="680" y="1400" transform="rotate(-85 1578 1400)">psaC</text>
<!-- left outside pushed -->
<text class="L e" x="306" y="1400" transform="rotate(34.1 1578 1400)">petL</text>
<text class="L e" x="306" y="1400" transform="rotate(33 1578 1400)">petG</text>
<text class="L e" x="306" y="1400" transform="rotate(31.45 1578 1400)">psaJ</text>
<text class="L e" x="306" y="1400" transform="rotate(30.15 1578 1400)">rpl33</text>
<text class="L e" x="306" y="1400" transform="rotate(29 1578 1400)">rps18</text>
<text class="L e" x="306" y="1400" transform="rotate(-63 1578 1400)">rrn4.5</text>
<text class="L e" x="306" y="1400" transform="rotate(-64.2 1578 1400)">rrn5</text>
<text class="L e" x="306" y="1400" transform="rotate(-65.3 1578 1400)">trnR-ACG</text>
<!-- right outside -->
<text class="L s" x="2750" y="1400" transform="rotate(-71.2 1578 1400)">psbC</text>
<text class="L s" x="2750" y="1400" transform="rotate(-68.4 1578 1400)">psbD</text>
<text class="L s" x="2750" y="1400" transform="rotate(-64 1578 1400)">trnT-GGU</text>
<text class="L s" x="2750" y="1400" transform="rotate(-14.8 1578 1400)">trnR-UCU</text>
<text class="L s" x="2750" y="1400" transform="rotate(-13.3 1578 1400)">trnG-UCC</text>
<text class="L s" x="2750" y="1400" transform="rotate(-9.9 1578 1400)">psbI</text>
<text class="L s" x="2750" y="1400" transform="rotate(-8.2 1578 1400)">psbK</text>
<text class="L s" x="2750" y="1400" transform="rotate(10.5 1578 1400)">rpl2</text>
<text class="L s" x="2750" y="1400" transform="rotate(31.6 1578 1400)">trnL-CAA</text>
<text class="L s" x="2750" y="1400" transform="rotate(35.7 1578 1400)">ndhB</text>
<text class="L s" x="2750" y="1400" transform="rotate(39.4 1578 1400)">rps7</text>
<text class="L s" x="2750" y="1400" transform="rotate(41.3 1578 1400)">rps12</text>
<text class="L s" x="2750" y="1400" transform="rotate(66.2 1578 1400)">trnN-GUU</text>
<!-- right inside -->
<text class="L e" x="2582" y="1400" transform="rotate(-86 1578 1400)">psaA</text>
<text class="L e" x="2582" y="1400" transform="rotate(-80.9 1578 1400)">psaB</text>
<text class="L e" x="2582" y="1400" transform="rotate(-73.6 1578 1400)">trnS-UGA</text>
<text class="L e" x="2582" y="1400" transform="rotate(-50.6 1578 1400)">rpoB</text>
<text class="L e" x="2582" y="1400" transform="rotate(-43.5 1578 1400)">rpoC1</text>
<text class="L e" x="2582" y="1400" transform="rotate(-34.7 1578 1400)">rpoC2</text>
<text class="L e" x="2582" y="1400" transform="rotate(-28.2 1578 1400)">rps2</text>
<text class="L e" x="2582" y="1400" transform="rotate(-26.2 1578 1400)">atpI</text>
<text class="L e" x="2582" y="1400" transform="rotate(-23.3 1578 1400)">atpH</text>
<text class="L e" x="2582" y="1400" transform="rotate(-20.7 1578 1400)">atpF</text>
<text class="L e" x="2582" y="1400" transform="rotate(-17.2 1578 1400)">atpA</text>
<text class="L e" x="2582" y="1400" transform="rotate(-10.9 1578 1400)">trnS-GCU</text>
<text class="L e" x="2582" y="1400" transform="rotate(-7.7 1578 1400)">trnQ-UUG</text>
<text class="L e" x="2582" y="1400" transform="rotate(-3.8 1578 1400)">rps16</text>
<text class="L e" x="2582" y="1400" transform="rotate(6.1 1578 1400)">psbA</text>
<text class="L e" x="2582" y="1400" transform="rotate(8.5 1578 1400)">trnH-GUG</text>
<text class="L e" x="2582" y="1400" transform="rotate(21.8 1578 1400)">ycf2</text>
<text class="L e" x="2582" y="1400" transform="rotate(30.5 1578 1400)">ycf15</text>
<text class="L e" x="2582" y="1400" transform="rotate(46 1578 1400)">trnV-GAC</text>
<text class="L e" x="2582" y="1400" transform="rotate(48.6 1578 1400)">rrn16</text>
<text class="L e" x="2582" y="1400" transform="rotate(52.3 1578 1400)">trnI-GAU</text>
<text class="L e" x="2582" y="1400" transform="rotate(54.7 1578 1400)">trnA-UGC</text>
<text class="L e" x="2582" y="1400" transform="rotate(59.3 1578 1400)">rrn23</text>
<text class="L e" x="2582" y="1400" transform="rotate(73.6 1578 1400)">ycf1</text>
<text class="L e" x="2582" y="1400" transform="rotate(81.5 1578 1400)">rps15</text>
<text class="L e" x="2582" y="1400" transform="rotate(83.4 1578 1400)">ndhH</text>
<text class="L e" x="2582" y="1400" transform="rotate(87.3 1578 1400)">ndhA</text>
<!-- right inside pushed -->
<text class="L e" x="2478" y="1400" transform="rotate(-77.3 1578 1400)">rps14</text>
<text class="L e" x="2478" y="1400" transform="rotate(-75.7 1578 1400)">trnfM-CAU</text>
<text class="L e" x="2478" y="1400" transform="rotate(-64 1578 1400)">trnE-UUC</text>
<text class="L e" x="2478" y="1400" transform="rotate(-62.4 1578 1400)">trnY-GUA</text>
<text class="L e" x="2478" y="1400" transform="rotate(-60.8 1578 1400)">trnD-GUC</text>
<text class="L e" x="2478" y="1400" transform="rotate(-59 1578 1400)">psbM</text>
<text class="L e" x="2478" y="1400" transform="rotate(0.75 1578 1400)">trnK-UUU</text>
<text class="L e" x="2478" y="1400" transform="rotate(2.5 1578 1400)">matK</text>
<text class="L e" x="2478" y="1400" transform="rotate(62.3 1578 1400)">rrn4.5</text>
<text class="L e" x="2478" y="1400" transform="rotate(63.8 1578 1400)">rrn5</text>
<text class="L e" x="2478" y="1400" transform="rotate(65.6 1578 1400)">trnR-ACG</text>
<!-- right outside pushed -->
<text class="L s" x="2856" y="1400" transform="rotate(-75.8 1578 1400)">trnG-GCC</text>
<text class="L s" x="2856" y="1400" transform="rotate(-74.6 1578 1400)">psbZ</text>
<text class="L s" x="2856" y="1400" transform="rotate(-57.9 1578 1400)">petN</text>
<text class="L s" x="2856" y="1400" transform="rotate(-56.7 1578 1400)">trnC-GCA</text>
<text class="L s" x="2856" y="1400" transform="rotate(12.6 1578 1400)">rpl23</text>
<text class="L s" x="2856" y="1400" transform="rotate(13.8 1578 1400)">trnI-CAU</text>
</g>

<g id="legend">
<g class="lb">
<rect class="ps1" x="50" y="2170" width="32" height="32" style="stroke:#111"/>
<rect class="ps2" x="50" y="2212" width="32" height="32" style="stroke:#111"/>
<rect class="cyt" x="50" y="2254" width="32" height="32" style="stroke:#111"/>
<rect class="atp" x="50" y="2297" width="32" height="32" style="stroke:#111"/>
<rect class="ndh" x="50" y="2339" width="32" height="32" style="stroke:#111"/>
<rect class="rbc" x="50" y="2381" width="32" height="32" style="stroke:#111"/>
<rect class="psa" x="50" y="2423" width="32" height="32" style="stroke:#111"/>
<rect class="rpo" x="50" y="2465" width="32" height="32" style="stroke:#111"/>
<rect class="rps" x="50" y="2508" width="32" height="32" style="stroke:#111"/>
<rect class="rpl" x="50" y="2550" width="32" height="32" style="stroke:#111"/>
<rect class="trn" x="50" y="2592" width="32" height="32" style="stroke:#111"/>
<rect class="rrn" x="50" y="2634" width="32" height="32" style="stroke:#111"/>
<rect class="clp" x="50" y="2676" width="32" height="32" style="stroke:#111"/>
<rect class="oth" x="50" y="2719" width="32" height="32" style="stroke:#111"/>
<rect class="ycf" x="50" y="2761" width="32" height="32" style="stroke:#111"/>
<rect class="orf" x="50" y="2803" width="32" height="32" style="stroke:#111"/>
<rect class="ori" x="50" y="2845" width="32" height="32" style="stroke:#111"/>
<rect class="pol" x="50" y="2887" width="32" height="32" style="stroke:#111"/>
</g>
<text class="lg" x="96" y="2198">photosystem I</text>
<text class="lg" x="96" y="2240">photosystem II</text>
<text class="lg" x="96" y="2282">cytochrome b/f complex</text>
<text class="lg" x="96" y="2325">ATP synthase</text>
<text class="lg" x="96" y="2367">NADH dehydrogenase</text>
<text class="lg" x="96" y="2409">RubisCO large subunit</text>
<text class="lg" x="96" y="2451">photosystem assembly/stability factors</text>
<text class="lg" x="96" y="2493">RNA polymerase</text>
<text class="lg" x="96" y="2536">ribosomal proteins (SSU)</text>
<text class="lg" x="96" y="2578">ribosomal proteins (LSU)</text>
<text class="lg" x="96" y="2620">transfer RNAs</text>
<text class="lg" x="96" y="2662">ribosomal RNAs</text>
<text class="lg" x="96" y="2704">clpP, matK</text>
<text class="lg" x="96" y="2747">other genes</text>
<text class="lg" x="96" y="2789">hypothetical chloroplast reading frames (ycf)</text>
<text class="lg" x="96" y="2831">ORFs</text>
<text class="lg" x="96" y="2873">origin of replication</text>
<text class="lg" x="96" y="2915">polycistronic transcripts</text>
</g>
</svg>
